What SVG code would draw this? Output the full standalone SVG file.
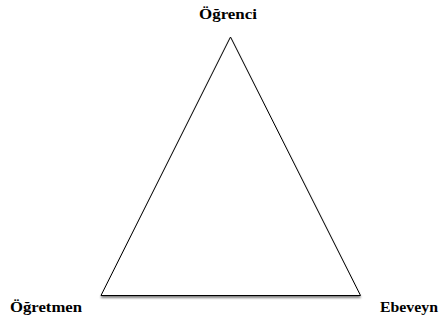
<svg xmlns="http://www.w3.org/2000/svg" width="439" height="320" viewBox="0 0 439 320">
<style>
.lbl{font-family:"Liberation Serif","Times New Roman",serif;font-weight:bold;font-size:14px;fill:#000}
</style>
<defs>
<filter id="sh" x="-10%" y="-10%" width="120%" height="130%">
<feGaussianBlur in="SourceAlpha" stdDeviation="1"/>
<feOffset dx="0" dy="2" result="b"/>
<feComponentTransfer><feFuncA type="linear" slope="0.5"/></feComponentTransfer>
<feMerge><feMergeNode/><feMergeNode in="SourceGraphic"/></feMerge>
</filter>
</defs>
<rect width="439" height="320" fill="#fff"/>
<g id="connectors">
<polygon points="230.5,37 101,295.5 360.5,295.5" fill="#fff" stroke="#000" stroke-width="1" filter="url(#sh)"/>
</g>
<g id="node-ogrenci"><text class="lbl" x="199" y="19" textLength="58" lengthAdjust="spacingAndGlyphs">Öğrenci</text></g>
<g id="node-ogretmen"><text class="lbl" x="10" y="312" textLength="72" lengthAdjust="spacingAndGlyphs">Öğretmen</text></g>
<g id="node-ebeveyn"><text class="lbl" x="380" y="312" textLength="58" lengthAdjust="spacingAndGlyphs">Ebeveyn</text></g>
</svg>
